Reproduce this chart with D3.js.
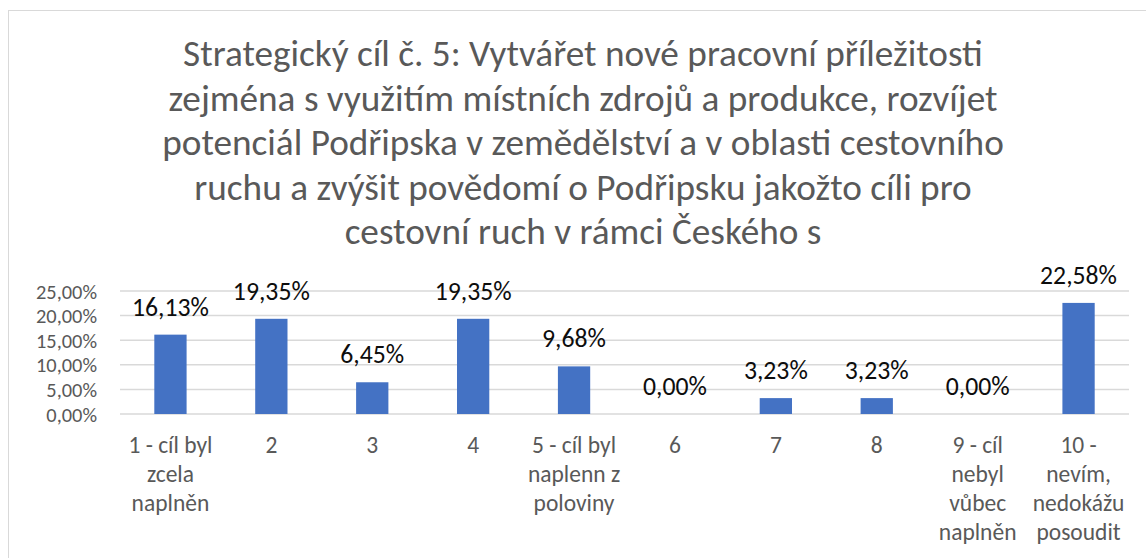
<!DOCTYPE html>
<html><head><meta charset="utf-8">
<script src="https://cdn.jsdelivr.net/npm/d3@7"></script>
<style>
html,body{margin:0;padding:0;background:#fff;}
svg text{font-family:Carlito, Calibri, Lato, "Noto Sans", sans-serif;}
</style></head>
<body><svg id="c" width="1146" height="558"></svg>
<script>
const titleLines = [
  "Strategický cíl č. 5: Vytvářet nové pracovní příležitosti",
  "zejména s využitím místních zdrojů a produkce, rozvíjet",
  "potenciál Podřipska v zemědělství a v oblasti cestovního",
  "ruchu a zvýšit povědomí o Podřipsku jakožto cíli pro",
  "cestovní ruch v rámci Českého s"
];
const categories = [
  ["1 - cíl byl","zcela","naplněn"],
  ["2"],["3"],["4"],
  ["5 - cíl byl","naplenn z","poloviny"],
  ["6"],["7"],["8"],
  ["9 - cíl","nebyl","vůbec","naplněn"],
  ["10 -","nevím,","nedokážu","posoudit"]
];
const values = [16.13, 19.35, 6.45, 19.35, 9.68, 0.00, 3.23, 3.23, 0.00, 22.58];
const yTicks = [0, 5, 10, 15, 20, 25];

const svg = d3.select("#c");
const fmt = v => v.toFixed(2).replace(".", ",") + "%";

// fit a font size so that a given sample string measures target width
function fitSize(sample, base, target){
  const t = svg.append("text").style("font-size", base+"px").text(sample);
  const w = t.node().getComputedTextLength();
  t.remove();
  return base * target / w;
}
const titleFs = fitSize(titleLines[0], 34, 800);
const tickFs = Math.min(20.4, fitSize("25,00%", 20, 70));
const labelFs = fitSize("16,13%", 23, 77);
const catFs = fitSize("1 - cíl byl", 20, 84);

// frame
svg.append("rect").attr("x",8.5).attr("y",10.5).attr("width",1200).attr("height",600)
  .attr("fill","none").attr("stroke","#d9d9d9").attr("stroke-width",1);

// title
svg.append("g").selectAll("text").data(titleLines).join("text")
  .attr("x",583).attr("y",(d,i)=>66+i*44.5)
  .attr("text-anchor","middle").attr("fill","#595959")
  .style("font-size",titleFs+"px").text(d=>d);

const x = d3.scaleBand().domain(d3.range(values.length)).range([120,1129]).paddingInner(0.68).paddingOuter(0.34);
const y = d3.scaleLinear().domain([0,25]).range([414,291]);

// gridlines
svg.append("g").selectAll("line").data(yTicks).join("line")
  .attr("x1",120).attr("x2",1129).attr("y1",d=>y(d)).attr("y2",d=>y(d))
  .attr("stroke","#d9d9d9").attr("stroke-width",1.5);

// y axis
const ya = svg.append("g").attr("transform","translate(97,0)")
  .call(d3.axisLeft(y).tickValues(yTicks).tickSize(0).tickPadding(0).tickFormat(d=>d.toFixed(2).replace(".",",")+"%"));
ya.select(".domain").remove();
ya.selectAll("text").attr("fill","#595959").style("font-size",tickFs+"px").attr("dy","0.35em");

// bars
svg.append("g").selectAll("rect").data(values).join("rect")
  .attr("x",(d,i)=>x(i)).attr("width",x.bandwidth())
  .attr("y",d=>y(d)).attr("height",d=>414-y(d))
  .attr("fill","#4472c4");

// data labels
svg.append("g").selectAll("text").data(values).join("text")
  .attr("x",(d,i)=>x(i)+x.bandwidth()/2).attr("y",d=>y(d)-19)
  .attr("text-anchor","middle").attr("fill","#0d0d0d").style("font-size",labelFs+"px")
  .text(fmt);

// category labels
const cg = svg.append("g").selectAll("text").data(categories).join("text")
  .attr("text-anchor","middle").attr("fill","#595959").style("font-size",catFs+"px");
cg.selectAll("tspan").data((d,i)=>d.map(s=>({s,i}))).join("tspan")
  .attr("x",d=>x(d.i)+x.bandwidth()/2).attr("y",(d,j)=>453+j*29).text(d=>d.s);
</script></body></html>
